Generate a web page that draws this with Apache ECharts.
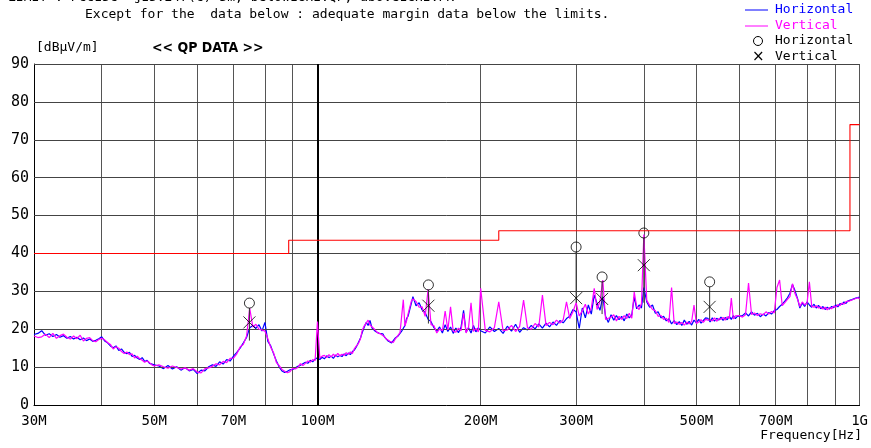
<!DOCTYPE html>
<html><head><meta charset="utf-8">
<script src="https://cdn.jsdelivr.net/npm/echarts@6/dist/echarts.min.js"></script>
<style>html,body{margin:0;padding:0;background:#fff}#c{width:871px;height:448px}</style>
</head><body><div id="c"></div>
<script>
// Frequencies in MHz
const freq = [
 30,30.5,31,31.5,32,32.5,33,33.5,34,34.5,35,35.5,36,36.5,37,37.5,38,38.5,39,39.5,40,40.5,41,41.5,42,42.5,43,43.5,44,44.5,45,45.5,46,46.5,47,47.5,48,48.5,49,49.5,50,
 51,52,53,54,55,56,57,58,59,60,61,62,63,64,65,66,67,68,69,70,71,72,73,74,75,76,77,78,79,80,
 81,82,83,84,85,86,87,88,89,90,91,92,93,94,95,96,97,98,99,100,
 101,102,103,104,105,106,107,108,109,110,111,112,113,114,115,116,117,118,119,120,
 121,122,123,124,125,126,127,128,129,130,131,132,133,134,135,136,137,138,139,140,
 141,142,143,144,145,146,147,148,149,150,
 152,154,156,158,160,162,164,166,168,170,172,174,176,178,180,182,184,186,188,190,192,194,196,198,200,
 204,208,212,216,220,224,228,232,236,240,244,248,252,256,260,264,268,272,276,280,
 284,288,292,296,300,304,308,312,316,320,324,328,332,336,340,344,348,352,356,360,
 364,368,372,376,380,384,388,392,396,400,
 405,410,415,420,425,430,435,440,445,450,455,460,465,470,475,480,485,490,495,500,
 505,510,515,520,525,530,535,540,545,550,555,560,565,570,575,580,585,590,595,600,
 608,616,624,632,640,648,656,664,672,680,688,696,704,712,720,728,736,744,752,760,
 768,776,784,792,800,808,816,824,832,840,848,856,864,872,880,888,896,904,912,920,
 928,936,944,952,960,968,976,984,992,1000
];
const horizontal = [
 18.6,18.9,19.6,18.4,18.8,18.1,18.6,17.9,18.3,17.6,18.1,17.4,17.9,17.2,17.7,17.0,17.4,16.8,17.1,17.5,18.0,16.9,16.4,15.6,15.1,15.6,14.4,14.8,13.9,13.5,13.9,12.8,13.1,12.4,12.0,12.5,11.5,11.8,11.0,10.8,10.6,
 10.3,9.6,10.4,9.5,10.1,9.2,9.9,9.0,9.4,8.3,9.2,9.0,10.1,10.6,10.2,11.4,10.8,12.0,11.6,12.9,13.9,15.0,16.4,17.8,20.4,21.0,20.2,21.2,19.5,21.8,
 16.8,15.6,13.5,11.6,10.0,9.0,8.6,8.9,9.3,9.4,9.8,10.2,10.5,10.9,11.3,11.0,11.8,11.4,12.1,12.5,
 12.0,12.6,12.2,13.0,12.5,12.9,12.3,13.2,12.7,13.1,12.8,13.5,13.0,13.7,13.3,14.1,14.5,15.4,16.5,17.6,
 19.2,20.6,21.8,21.0,22.3,20.4,20.0,19.4,19.8,18.9,18.4,18.8,17.9,17.5,16.9,17.3,16.4,16.8,17.6,17.2,
 18.3,18.8,19.5,20.0,21.0,22.8,23.5,25.2,26.8,28.6,
 26.2,27.0,25.1,24.4,22.6,22.0,20.4,19.5,20.6,19.0,21.2,19.4,20.6,18.9,20.3,19.1,20.5,25.0,19.2,20.4,19.0,21.0,19.3,20.4,19.6,
 19.0,20.6,19.4,20.2,18.9,20.8,19.5,21.3,19.2,20.4,19.8,21.0,20.1,21.4,20.3,21.6,20.6,21.9,21.0,22.3,
 21.7,22.8,23.4,25.2,24.6,20.2,25.6,23.0,26.4,24.0,29.0,26.8,25.0,28.6,23.4,21.8,23.8,22.4,23.6,22.5,
 23.4,22.2,24.0,23.0,23.8,28.5,25.4,26.4,25.6,31.0,
 27.2,25.8,26.4,24.2,24.6,23.0,23.4,22.2,22.8,21.4,22.3,21.2,22.0,21.0,22.4,21.3,22.1,21.1,22.4,21.7,
 22.6,21.6,22.3,23.0,22.9,21.9,23.0,22.1,22.9,22.4,23.2,22.3,23.1,22.5,23.4,22.6,23.6,22.8,23.4,23.0,
 23.6,24.3,23.5,24.6,23.7,24.2,23.3,24.0,23.5,24.4,24.0,24.9,25.2,26.0,26.6,27.4,28.3,29.5,31.8,30.2,
 28.2,25.6,26.9,26.0,27.2,26.4,25.8,26.6,25.6,26.3,25.4,26.0,25.2,25.8,25.3,26.0,25.7,26.4,25.9,26.8,
 26.5,27.2,26.8,27.5,27.1,27.8,27.4,28.2,27.9,28.5
];
const vertical = [
 18.2,17.8,18.0,18.7,17.8,18.9,17.6,18.3,18.7,17.9,17.4,18.2,17.5,18.4,16.9,17.6,17.8,17.0,16.7,17.3,17.6,17.2,16.5,16.0,14.8,15.4,15.0,14.1,13.6,14.0,13.3,13.5,12.4,12.9,12.2,11.8,11.3,11.6,11.2,10.6,10.3,
 10.6,10.1,9.7,10.3,9.9,9.5,9.8,9.2,9.6,8.7,8.5,9.6,9.8,10.2,10.9,10.6,11.5,11.2,12.3,12.4,13.5,15.3,16.0,18.2,25.5,20.6,21.3,20.0,19.8,19.5,
 17.5,15.2,13.8,11.2,10.4,9.4,8.9,8.5,8.8,9.7,9.5,9.9,10.9,10.4,11.0,11.6,11.3,12.0,11.7,22.0,
 12.4,12.9,13.1,12.5,13.3,12.7,13.4,12.8,13.6,13.0,13.4,13.1,13.8,13.4,14.0,13.6,14.9,15.6,16.2,17.4,
 19.8,20.9,21.4,22.4,21.1,20.9,20.2,20.6,19.1,19.4,18.7,18.3,18.0,17.4,17.6,16.8,17.1,16.5,17.3,17.9,
 18.0,19.1,19.4,27.8,20.8,22.2,24.1,24.6,27.4,28.0,
 27.3,25.8,25.9,23.4,30.5,21.2,20.9,19.0,20.1,19.6,24.8,19.8,25.9,19.5,19.2,20.3,19.6,24.2,19.0,20.6,27.0,19.4,20.2,19.3,30.8,
 19.7,19.3,20.4,27.2,19.6,19.8,21.0,19.4,20.7,27.7,20.4,20.0,21.5,20.6,29.0,21.0,21.8,21.2,22.4,21.6,
 22.5,27.2,22.8,24.6,27.0,23.5,24.9,26.6,24.0,25.6,30.8,25.2,27.4,33.0,22.6,22.9,23.2,23.8,22.2,23.4,
 22.6,23.6,22.8,24.2,22.9,29.8,26.0,25.2,26.8,45.0,
 27.6,26.3,25.2,24.9,23.4,23.7,22.6,22.9,21.8,31.0,21.5,21.9,21.3,21.8,21.1,21.9,21.4,22.0,26.4,21.5,
 21.9,22.5,21.8,22.6,22.4,22.6,22.2,23.0,22.1,22.8,22.6,23.1,22.4,23.3,22.8,28.2,22.7,23.5,23.0,23.6,
 23.2,23.8,32.2,23.9,24.3,23.6,24.1,23.8,24.6,24.0,24.7,24.3,31.0,33.0,26.2,27.0,27.9,28.6,32.0,29.4,
 28.0,26.0,27.2,26.4,26.9,32.5,26.1,25.8,26.2,25.6,25.9,25.3,25.8,25.1,25.7,25.4,26.1,25.8,26.5,26.2,
 26.9,26.6,27.3,26.9,27.5,27.2,27.9,27.6,28.3,28.0
];
// Limit line (step)
const limitFreq = [30, 88.5, 88.5, 216, 216, 960, 960, 1000];
const limitVal  = [40, 40, 43.5, 43.5, 46, 46, 74, 74];
// QP markers and their stems down to the trace
const qpFreq = [74.9, 160.2, 300, 335, 400, 529];
const qpHorizontal = [26.9, 31.7, 41.7, 33.8, 45.4, 32.5];
const qpVertical = [21.8, 26.2, 28.2, 28.0, 36.9, 25.9];
const stemBottom = [17.0, 21.5, 27.0, 24.0, 27.0, 22.5];
// Axis ticks
const yGridValues = [10, 20, 30, 40, 50, 60, 70, 80, 90];
const xLabelValues = [30, 50, 70, 100, 200, 300, 500, 700, 1000];
const xLabelText = {30:'30M',50:'50M',70:'70M',100:'100M',200:'200M',300:'300M',500:'500M',700:'700M',1000:'1G'};
const xGridValues = [30,40,50,60,70,80,90,100,200,300,400,500,600,700,800,900,1000];

const FONT = 'DejaVu Sans Mono';
const zip = (a, b) => a.map((v, i) => [v, b[i]]);

const chart = echarts.init(document.getElementById('c'), null, {renderer: 'canvas'});
chart.setOption({
  animation: false,
  backgroundColor: '#fff',
  grid: {left: 34, right: 10, top: 64, bottom: 43, containLabel: false},
  xAxis: {
    type: 'log', logBase: 10, min: 30, max: 1000,
    axisLine: {show: true, lineStyle: {color: '#000', width: 1}},
    axisTick: {show: false, customValues: xGridValues},
    splitLine: {show: true, lineStyle: {color: '#555', width: 1}},
    axisLabel: {customValues: xLabelValues, formatter: v => xLabelText[Math.round(v)] || '',
      color: '#000', fontFamily: FONT, fontSize: 14, margin: 9}
  },
  yAxis: {
    type: 'value', min: 0, max: 90, interval: 10,
    axisLine: {show: true, lineStyle: {color: '#000', width: 1}},
    axisTick: {show: false},
    splitLine: {show: false},
    axisLabel: {color: '#000', fontFamily: FONT, fontSize: 15, margin: 5}
  },
  series: [
    {type: 'line', name: 'hgrid', data: [], silent: true, z: 1,
     markLine: {symbol: 'none', silent: true, label: {show: false}, animation: false,
       lineStyle: {color: '#444', width: 1, type: 'solid'}, data: yGridValues.map(v => ({yAxis: v}))}},
    {type: 'line', name: 'grid100', data: [], silent: true, z: 1,
     markLine: {symbol: 'none', silent: true, label: {show: false}, animation: false,
       lineStyle: {color: '#000', width: 2, type: 'solid'}, data: [{xAxis: 100}]}},
    {type: 'line', name: 'Horizontal', data: zip(freq, horizontal), symbol: 'none',
     lineStyle: {color: '#0000ff', width: 1.2}, z: 4},
    {type: 'line', name: 'Vertical', data: zip(freq, vertical), symbol: 'none',
     lineStyle: {color: '#ff00ff', width: 1.2}, z: 5},
    {type: 'line', name: 'Limit', data: zip(limitFreq, limitVal), symbol: 'none', zlevel: 2,
     lineStyle: {color: '#ff0000', width: 1.1}, z: 8},
    {type: 'custom', name: 'stems', z: 9, silent: true,
     data: qpFreq.map((f, i) => [f, qpHorizontal[i], stemBottom[i]]),
     renderItem: (params, api) => {
       const top = api.coord([api.value(0), api.value(1)]);
       const bot = api.coord([api.value(0), api.value(2)]);
       return {type: 'line', shape: {x1: top[0], y1: top[1] + 5, x2: bot[0], y2: bot[1]},
               style: {stroke: '#333', lineWidth: 1}};
     }},
    {type: 'scatter', name: 'QP Horizontal', data: zip(qpFreq, qpHorizontal), symbol: 'circle', symbolSize: 10,
     itemStyle: {color: 'rgba(0,0,0,0)', borderColor: '#000', borderWidth: 1}, z: 11},
    {type: 'scatter', name: 'QP Vertical', data: zip(qpFreq, qpVertical),
     symbol: 'path://M0,0L10,10M10,0L0,10', symbolSize: 12,
     itemStyle: {color: 'none', borderColor: '#000', borderWidth: 1}, z: 11}
  ],
  graphic: [
    {type: 'text', left: 8, top: -9, style: {text: 'LIMIT : FCC15C  §15.247(c) 3m, below1GHz:QP, above1GHz:PK', font: '13px "DejaVu Sans Mono"', fill: '#000'}},
    {type: 'text', left: 85, top: 8, style: {text: 'Except for the  data below : adequate margin data below the limits.', font: '13px "DejaVu Sans Mono"', fill: '#000'}},
    {type: 'text', left: 36, top: 41, style: {text: '[dBμV/m]', font: '13px "DejaVu Sans Mono"', fill: '#000'}},
    {type: 'text', left: 152, top: 41, style: {text: '<< QP DATA >>', font: 'bold 14px "DejaVu Sans Condensed"', fill: '#000'}},
    {type: 'line', shape: {x1: 745, y1: 10, x2: 768, y2: 10}, style: {stroke: '#0000ff', lineWidth: 1}},
    {type: 'text', left: 775, top: 3, style: {text: 'Horizontal', font: '13px "DejaVu Sans Mono"', fill: '#0000ff'}},
    {type: 'line', shape: {x1: 745, y1: 26, x2: 768, y2: 26}, style: {stroke: '#ff00ff', lineWidth: 1}},
    {type: 'text', left: 775, top: 19, style: {text: 'Vertical', font: '13px "DejaVu Sans Mono"', fill: '#ff00ff'}},
    {type: 'circle', shape: {cx: 758, cy: 41, r: 4.5}, style: {stroke: '#000', fill: 'none', lineWidth: 1}},
    {type: 'text', left: 775, top: 34, style: {text: 'Horizontal', font: '13px "DejaVu Sans Mono"', fill: '#000'}},
    {type: 'text', left: 752, top: 50, style: {text: '×', font: '15px "DejaVu Sans"', fill: '#000'}},
    {type: 'text', left: 775, top: 50, style: {text: 'Vertical', font: '13px "DejaVu Sans Mono"', fill: '#000'}},
    {type: 'text', right: 9, top: 429, style: {text: 'Frequency[Hz]', font: '13px "DejaVu Sans Mono"', fill: '#000'}}
  ]
});
</script>
</body></html>
